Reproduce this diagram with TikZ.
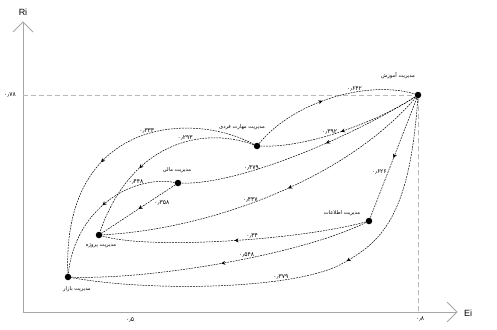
\documentclass[tikz,border=0pt]{standalone}
\usepackage{fontspec}
\setmainfont{Liberation Sans}
\newfontfamily\arabicfont[Script=Arabic]{DejaVu Sans}
\TeXXeTstate=1
\usetikzlibrary{arrows.meta,decorations.markings}

\tikzset{
  dot/.style={circle, fill=black, inner sep=0pt, minimum size=6.5pt},
  dept/.style={font=\arabicfont\fontsize{5.2}{6}\selectfont, inner sep=1pt},
  weight/.style={font=\arabicfont\fontsize{6}{7}\selectfont, inner sep=1pt},
  link/.style={draw, line width=0.5pt, dash pattern=on 1.8pt off 1pt,
    postaction={decorate}, decoration={markings,
      mark=at position #1 with {\arrow{Stealth[length=4pt,width=4pt]}}}},
  link/.default=0.5,
  guide/.style={gray!55, line width=0.8pt, dash pattern=on 5pt off 3pt},
  axis/.style={gray!70, line width=0.8pt}
}

\begin{document}
\begin{tikzpicture}[x=1pt, y=-1pt]
\useasboundingbox (0,0) rectangle (497,329);

% axes
\coordinate (origin) at (23,312);
\coordinate (ytop) at (23,22);
\coordinate (xend) at (457,312);
\draw[axis] (origin) -- (ytop);
\draw[axis] (origin) -- (xend);
\draw[axis] (13,32) -- (ytop) -- (33,32);
\draw[axis] (447,302) -- (xend) -- (447,322);
\node[font=\fontsize{9}{10}\selectfont] (ri) at (23,12) {Ri};
\node[font=\fontsize{9}{10}\selectfont] (ei) at (468,313) {Ei};

% nodes
\node[dot] (amoozesh) at (418,95) {};
\node[dot] (mharat) at (257,146) {};
\node[dot] (mali) at (178,183) {};
\node[dot] (proje) at (99,235) {};
\node[dot] (bazar) at (68,277) {};
\node[dot] (ettelaat) at (369,221) {};

% guides
\coordinate (ymark) at (23,95);
\coordinate (xmark) at (418,312);
\draw[guide] (ymark) -- (amoozesh);
\draw[guide] (amoozesh) -- (xmark);
\node[weight] (ylab) at (10,95) {۰٫۷۸};
\node[weight] (xlab) at (420,319) {۰٫۸};
\node[weight] (xlab2) at (130,320) {۰٫۵};

% names
\node[dept] (amoozesh-t) at (398,76) {\beginR مدیریت آموزش\endR};
\node[dept] (mharat-t) at (242,127) {\beginR مدیریت مهارت فردی\endR};
\node[dept] (mali-t) at (177,170) {\beginR مدیریت مالی\endR};
\node[dept] (proje-t) at (101,246) {\beginR مدیریت پروژه\endR};
\node[dept] (bazar-t) at (77,289) {\beginR مدیریت بازار\endR};
\node[dept] (ettelaat-t) at (342,213) {\beginR مدیریت اطلاعات\endR};

% links
\draw[link=0.45] (mharat) .. controls (295,100) and (370,80) .. (amoozesh) node[weight, above, pos=0.62] {۰٫۶۴۲};
\draw[link=0.5] (amoozesh) .. controls (380,120) and (310,148) .. (mharat) node[weight, above, pos=0.58] {۰٫۳۹۲};
\draw[link=0.4] (amoozesh) .. controls (355,135) and (240,185) .. (mali) node[weight, above, pos=0.68] {۰٫۴۷۹};
\draw[link=0.45] (amoozesh) .. controls (340,185) and (200,230) .. (proje) node[weight, above, pos=0.55] {۰٫۴۳۷};
\draw[link=0.5] (amoozesh) -- (ettelaat) node[weight, left, pos=0.62] {۰٫۶۲۶};
\draw[link=0.4] (amoozesh) .. controls (410,210) and (385,240) .. (345,262) .. controls (300,290) and (150,292) .. (bazar) node[weight, above, pos=0.3] {۰٫۳۷۹};
\draw[link=0.5] (ettelaat) .. controls (300,240) and (150,250) .. (proje) node[weight, above, pos=0.42] {۰٫۳۴};
\draw[link=0.5] (ettelaat) .. controls (300,255) and (150,280) .. (bazar) node[weight, above, pos=0.43] {۰٫۵۴۸};
\draw[link=0.58] (mharat) .. controls (190,110) and (62,120) .. (bazar) node[weight, above, pos=0.45] {۰٫۳۳۳};
\draw[link=0.62] (mharat) .. controls (200,125) and (130,145) .. (proje) node[weight, above, pos=0.4] {۰٫۲۹۳};
\draw[link=0.5] (mali) .. controls (130,175) and (75,210) .. (bazar) node[weight, above, pos=0.28] {۰٫۴۴۸};
\draw[link=0.5] (mali) -- (proje) node[weight, below right, pos=0.3] {۰٫۳۵۸};
\end{tikzpicture}
\end{document}
